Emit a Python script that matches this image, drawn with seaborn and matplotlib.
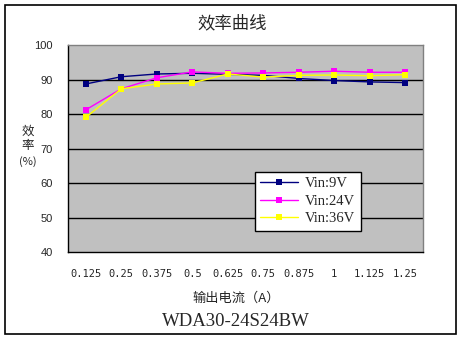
import matplotlib
matplotlib.use("Agg")
import matplotlib.pyplot as plt
from matplotlib.patches import Rectangle
from matplotlib.ticker import FixedLocator
import seaborn as sns
import pandas as pd

# Output current categories (A)
currents = ["0.125", "0.25", "0.375", "0.5", "0.625", "0.75", "0.875", "1", "1.125", "1.25"]
# Efficiency (%) for each input voltage
eff_9v = [88.7, 90.8, 91.6, 91.8, 91.5, 91.2, 90.3, 89.7, 89.3, 89.1]
eff_24v = [81.2, 87.3, 90.5, 92.2, 91.8, 91.9, 92.1, 92.4, 92.1, 92.1]
eff_36v = [79.0, 87.3, 88.7, 89.0, 91.6, 90.7, 91.2, 91.3, 91.1, 91.4]
series_names = ["Vin:9V", "Vin:24V", "Vin:36V"]
series_colors = ["#000080", "#FF00FF", "#FFFF00"]

sns.set_style("white")
plt.rcParams["font.family"] = ["Noto Sans CJK SC", "DejaVu Sans"]

rows = []
for name, vals in zip(series_names, [eff_9v, eff_24v, eff_36v]):
    for i, v in enumerate(vals):
        rows.append({"pos": i, "eff": v, "series": name})
df = pd.DataFrame(rows)

fig = plt.figure(figsize=(4.62, 3.40), dpi=100)
ax = fig.add_axes([68 / 462, 1 - 252 / 340, (423 - 68) / 462, (252 - 45) / 340])
ax.set_facecolor("#C0C0C0")

sns.lineplot(data=df, x="pos", y="eff", hue="series", palette=series_colors,
             marker="s", markersize=5, markeredgewidth=0, linewidth=1.0,
             ax=ax, legend=True, zorder=3)

ax.set_xlim(-0.5, len(currents) - 0.5)
ax.set_ylim(40, 100)
ax.set_yticks(range(40, 101, 10))
ax.set_yticklabels([str(v) for v in range(40, 101, 10)], family="Liberation Sans", fontsize=8)
ax.set_xticks(range(len(currents)))
ax.set_xticklabels(currents, family="DejaVu Sans Mono", fontsize=7.5)
ax.xaxis.set_minor_locator(FixedLocator([i + 0.5 for i in range(-1, len(currents))]))
ax.tick_params(axis="x", which="major", length=0, pad=12)
ax.tick_params(axis="x", which="minor", length=4, width=0.8, color="black", direction="out")
ax.tick_params(axis="y", which="major", length=3, width=0.8, color="black", direction="out", pad=8)

for v in range(50, 100, 10):
    ax.axhline(v, color="black", linewidth=1.0, zorder=1)

for side in ["top", "right"]:
    ax.spines[side].set_color("#808080")
    ax.spines[side].set_linewidth(1.0)
for side in ["left", "bottom"]:
    ax.spines[side].set_color("black")
    ax.spines[side].set_linewidth(1.0)

ax.set_xlabel("")
ax.set_ylabel("")

leg = ax.legend(loc="upper left", bbox_to_anchor=((255 - 68) / 355, (252 - 172) / 207),
                borderaxespad=0, frameon=True, fancybox=False, edgecolor="black",
                framealpha=1, facecolor="white", handlelength=2.6, borderpad=0.35,
                labelspacing=0.3, handletextpad=0.5,
                prop={"family": "Liberation Serif", "size": 10.5})
leg.get_frame().set_linewidth(1.0)
for line in leg.get_lines():
    line.set_linewidth(1.0)
    line.set_markersize(4)

fig.text(232 / 462, 1 - 23 / 340, "效率曲线", ha="center", va="center", fontsize=12.5)
fig.text(28 / 462, 1 - 131 / 340, "效", ha="center", va="center", fontsize=9)
fig.text(28 / 462, 1 - 146 / 340, "率", ha="center", va="center", fontsize=9)
fig.text(28 / 462, 1 - 162 / 340, "(%)", ha="center", va="center", fontsize=8)
fig.text(236 / 462, 1 - 298 / 340, "输出电流（A）", ha="center", va="center", fontsize=9.5)
fig.text(236 / 462, 1 - 321 / 340, "WDA30-24S24BW", ha="center", va="center",
         fontsize=13.5, family="Liberation Serif")

fig.patches.append(Rectangle((5 / 462, 1 - 334 / 340), 451 / 462, 329 / 340,
                             transform=fig.transFigure, fill=False,
                             edgecolor="black", linewidth=1.2))

fig.savefig("out.png", dpi=100)
